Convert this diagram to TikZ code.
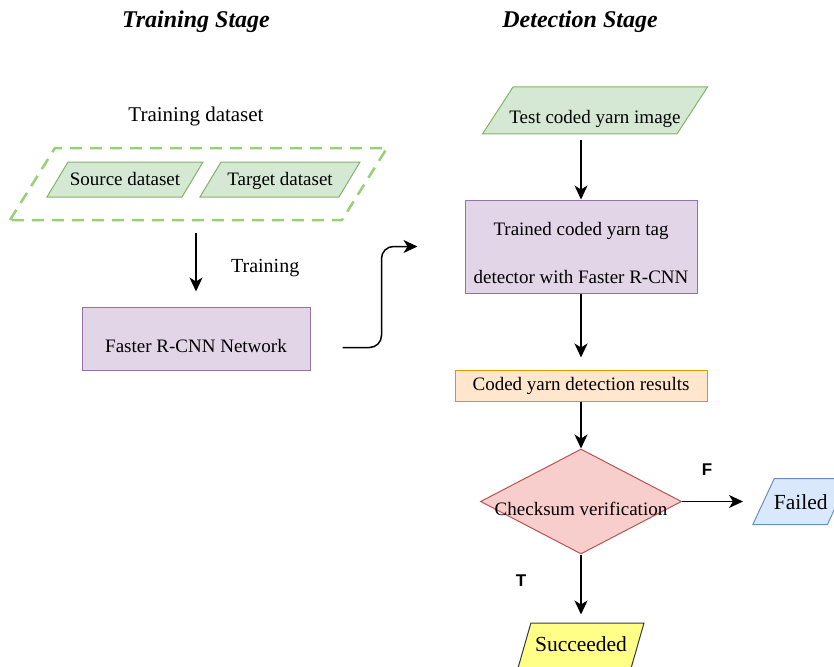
\documentclass[tikz,border=0pt]{standalone}
\usepackage{fontspec}
\setmainfont{Liberation Serif}
\newfontfamily\labelfont{Liberation Sans}
\usepackage{xcolor}
\usepackage{tikz}
\usetikzlibrary{shapes,arrows.meta,positioning}

\definecolor{greenfill}{HTML}{D5E8D4}
\definecolor{greenline}{HTML}{82B366}
\definecolor{greendash}{HTML}{97D077}
\definecolor{purplefill}{HTML}{E1D5E7}
\definecolor{purpleline}{HTML}{9673A6}
\definecolor{orangefill}{HTML}{FFE6CC}
\definecolor{orangeline}{HTML}{D79B00}
\definecolor{redfill}{HTML}{F8CECC}
\definecolor{redline}{HTML}{B85450}
\definecolor{bluefill}{HTML}{DAE8FC}
\definecolor{blueline}{HTML}{6C8EBF}
\definecolor{yellowfill}{HTML}{FFFF88}
\definecolor{yellowline}{HTML}{36393D}

\newcommand{\ztext}[1]{\makebox[0pt]{#1}}

\begin{document}
\begin{tikzpicture}[
    x=1pt, y=-1pt,
    font=\fontsize{19}{23}\selectfont,
    box/.style={rectangle, draw, line width=1pt, inner sep=0pt},
    io/.style n args={4}{trapezium, trapezium left angle=#1, trapezium right angle=#2,
        trapezium stretches body=true, draw, line width=1pt, inner xsep=2pt, inner ysep=0pt,
        text height=#3, text depth=#4},
    lowtext/.style={text height=29pt},
    stage/.style={font=\fontsize{24}{28}\selectfont\bfseries\itshape},
    flag/.style={font=\fontsize{17}{20}\selectfont\labelfont\bfseries, inner sep=0pt},
    arrow/.style={-{Stealth[length=14pt,width=13pt,inset=4pt]}, line width=1.5pt}
]
    \useasboundingbox (0,0) rectangle (834,666);

    \node[stage] (trainstage) at (196,22) {Training Stage};
    \node[stage] (detectstage) at (580,22) {Detection Stage};

    \node[io={58}{122}{42pt}{30pt}, draw=greendash, line width=2.5pt, dash pattern=on 12pt off 8pt,
        minimum width=377pt, minimum height=72pt] (trainset) at (198.5,184) {};
    \node[font=\fontsize{21}{25}\selectfont] (trainlabel) at (196,116) {Training dataset};
    \node[io={59}{121}{23.5pt}{11.5pt}, fill=greenfill, draw=greenline, minimum width=156pt, minimum height=35pt]
        (source) at (125,179.5) {\ztext{Source dataset}};
    \node[io={59}{121}{23.5pt}{11.5pt}, fill=greenfill, draw=greenline, minimum width=160pt, minimum height=35pt]
        (target) at (280,179.5) {\ztext{Target dataset}};
    \node[box, lowtext, fill=purplefill, draw=purpleline, minimum width=228pt, minimum height=63pt]
        (net) at (196,338.5) {Faster R-CNN Network};

    \node[box, text height=75pt, fill=purplefill, draw=purpleline, minimum width=232pt, minimum height=93pt, align=center]
        (trained) at (581,246.5) {Trained coded yarn tag\\[25pt]detector with Faster R-CNN};
    \node[io={57}{123}{36.5pt}{10.5pt}, fill=greenfill, draw=greenline, minimum width=225pt, minimum height=47pt,
        above=65pt of trained, xshift=14pt] (test) {\ztext{Test coded yarn image}};
    \node[box, fill=orangefill, draw=orangeline, minimum width=252pt, minimum height=31pt,
        below=76pt of trained] (results) {Coded yarn detection results};
    \node[diamond, lowtext, fill=redfill, draw=redline, line width=1pt, inner sep=0pt,
        minimum width=201pt, minimum height=105pt, below=47pt of results] (check)
        {\ztext{Checksum verification}};
    \node[io={74}{106}{28.5pt}{16.5pt}, font=\fontsize{21.5}{25}\selectfont, fill=yellowfill, draw=yellowline,
        minimum width=126pt, minimum height=45pt, below=68pt of check] (succ) {\ztext{Succeeded}};
    \node[io={65}{115}{31pt}{15pt}, font=\fontsize{21.5}{25}\selectfont, fill=bluefill, draw=blueline,
        minimum width=96pt, minimum height=46pt, right=81pt of check] (failed) {\ztext{Failed}};

    \draw[arrow] ([yshift=-12pt]trainset.south -| net.north) -- node[pos=0.6, right=31pt, font=\fontsize{20}{24}\selectfont] {Training} ([yshift=15pt]net.north);
    \draw[arrow, rounded corners=12pt] ([xshift=32pt,yshift=-9pt]net.east) -| ([xshift=-83pt]trained.west) -- ([xshift=-47pt]trained.west);
    \draw[arrow] ([yshift=-5pt]test.south -| trained.north) -- (trained.north);
    \draw[arrow] (trained.south) -- ([yshift=12pt]results.north);
    \draw[arrow] (results.south) -- (check.north);
    \draw[arrow] (check.east) -- node[flag, pos=0.41, above=25pt] {F} ([xshift=-20pt]failed.west);
    \draw[arrow] (check.south) -- node[flag, pos=0.43, left=54pt] {T} ([yshift=8pt]succ.north);

\end{tikzpicture}
\end{document}
